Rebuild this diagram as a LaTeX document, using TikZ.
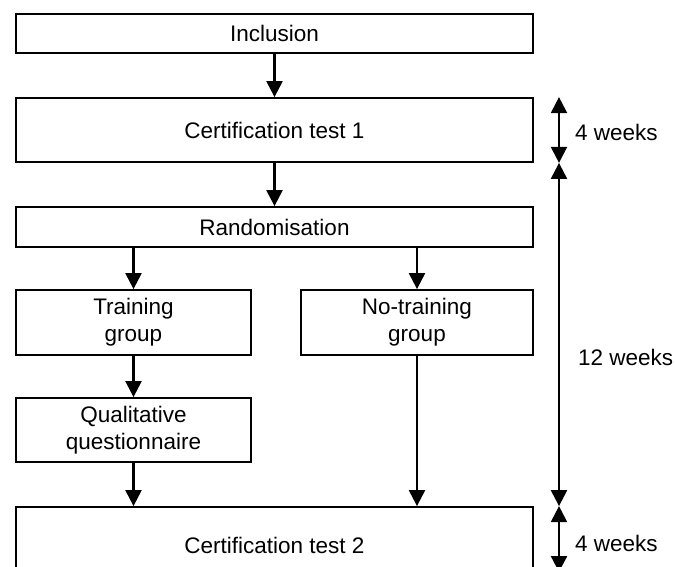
\documentclass[tikz,border=0pt]{standalone}
\usepackage{fontspec}
\setmainfont{Liberation Sans}
\usetikzlibrary{arrows.meta}
\begin{document}
\begin{tikzpicture}[x=1pt,y=-1pt,
  box/.style={draw, line width=1.8pt, inner sep=0pt, align=center,
    font=\fontsize{22.5}{27}\selectfont},
  conn/.style={-{Triangle[width=16pt,length=16pt]}, line width=2.2pt},
  dbl/.style={{Triangle[width=16pt,length=16pt]}-{Triangle[width=16pt,length=16pt]}, line width=2.2pt},
  lbl/.style={anchor=west, inner sep=0pt, font=\fontsize{22.5}{27}\selectfont}]
\clip (0,0) rectangle (675,566);
\node[box, minimum width=517pt, minimum height=39pt] (incl) at (274.5,33.5) {Inclusion};
\node[box, minimum width=517pt, minimum height=64pt] (cert1) at (274.5,130) {Certification test 1};
\node[box, minimum width=517pt, minimum height=40pt] (rand) at (274.5,227) {Randomisation};
\node[box, minimum width=235pt, minimum height=65pt] (train) at (133.5,322.5) {Training\\group};
\node[box, minimum width=232pt, minimum height=65pt] (notrain) at (417,322.5) {No-training\\group};
\node[box, minimum width=235pt, minimum height=64pt] (qual) at (133.5,430) {Qualitative\\questionnaire};
\node[box, minimum width=517pt, minimum height=76pt] (cert2) at (274.5,545) {Certification test 2};
\draw[conn] (incl.south) -- (cert1.north);
\draw[conn] (cert1.south) -- (rand.north);
\draw[conn] (rand.south -| train.north) -- (train.north);
\draw[conn] (rand.south -| notrain.north) -- (notrain.north);
\draw[conn] (train.south) -- (qual.north);
\draw[conn] (qual.south) -- (qual.south |- cert2.north);
\draw[conn] (notrain.south) -- (notrain.south |- cert2.north);
\coordinate (tx) at (559,0);
\coordinate (tend) at (559,572);
\draw[dbl] (cert1.north -| tx) -- (cert1.south -| tx);
\draw[dbl] (cert1.south -| tx) -- (cert2.north -| tx);
\draw[dbl] (cert2.north -| tx) -- (tend);
\node[lbl] (w1) at (575,132) {4 weeks};
\node[lbl] (w2) at (578,357) {12 weeks};
\node[lbl] (w3) at (575,543) {4 weeks};
\end{tikzpicture}
\end{document}
